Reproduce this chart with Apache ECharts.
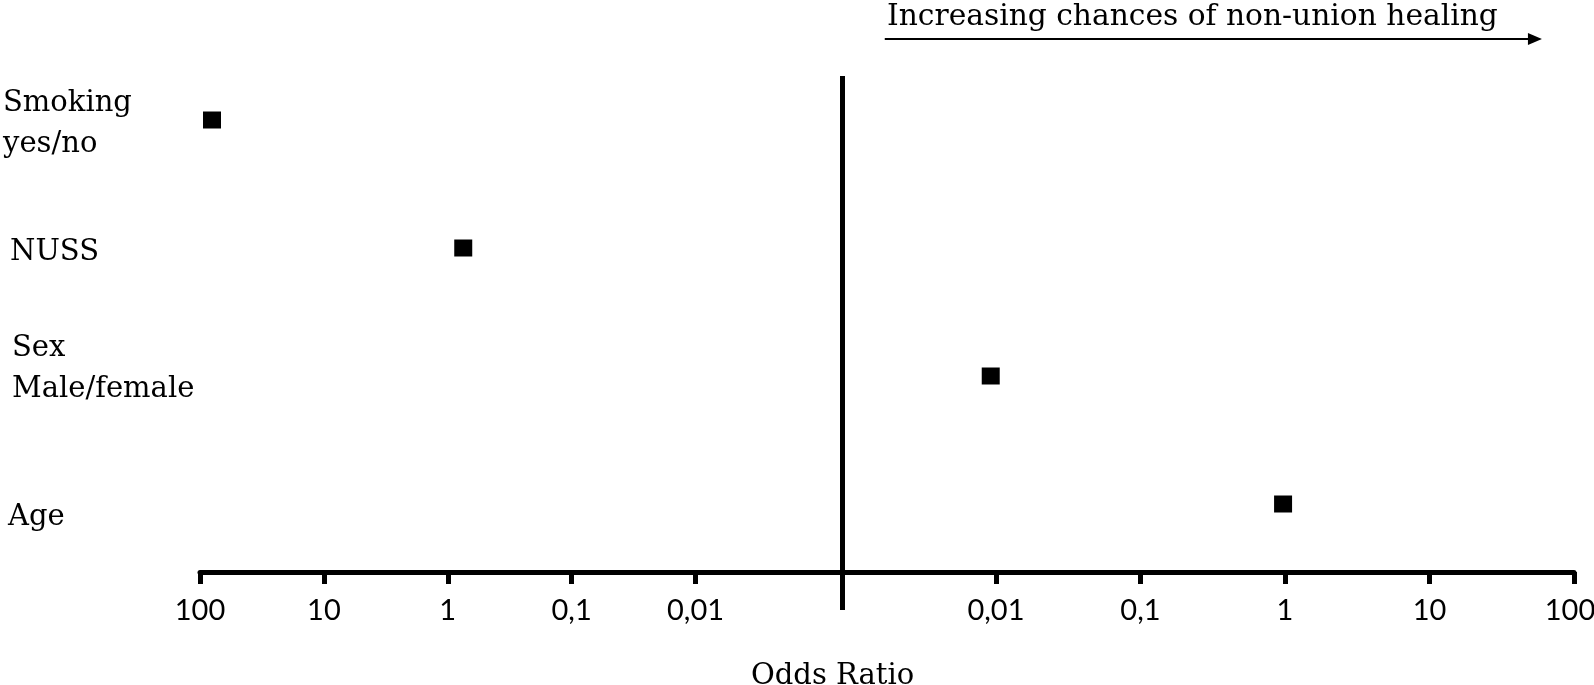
<!DOCTYPE html>
<html>
<head>
<meta charset="utf-8">
<script src="https://cdn.jsdelivr.net/npm/echarts@6/dist/echarts.min.js"></script>
<style>
html,body{margin:0;padding:0;background:#fff;}
#chart{width:1594px;height:685px;}
</style>
</head>
<body>
<div id="chart"></div>
<script>
// ---- data ----
const categories = ['Smoking\nyes/no', 'NUSS', 'Sex\nMale/female', 'Age'];
const oddsRatios = [80, 0.75, 0.0092, 0.97];
const sides = ['left', 'left', 'right', 'right'];
const tickValues = [100, 10, 1, 0.1, 0.01];
const tickLabels = ['100', '10', '1', '0,1', '0,01'];
const axisTitle = 'Odds Ratio';
const directionText = 'Increasing chances of non-union healing';

// ---- chart ----
const chart = echarts.init(document.getElementById('chart'), null, {renderer: 'canvas'});
const serif = 'DejaVu Serif';
const sans = 'Lato';

function tickIndex(v) {
  let best = 0, bd = Infinity;
  tickValues.forEach((t, i) => {
    const d = Math.abs(Math.log10(v) - Math.log10(t));
    if (d < bd) { bd = d; best = i; }
  });
  return best;
}

const leftMin = 0.000651, rightMin = 0.000867;

function xAx(gridIndex, inverse, min) {
  return {
    type: 'log', logBase: 10, gridIndex: gridIndex, inverse: inverse,
    min: min, max: 100, offset: 4,
    axisLine: {show: true, lineStyle: {color: '#000', width: 5}},
    axisTick: {show: true, length: 12, lineStyle: {color: '#000', width: 5}, customValues: tickValues},
    axisLabel: {show: true, customValues: tickValues, color: '#000',
      fontFamily: sans, fontSize: 29, margin: 24, hideOverlap: false,
      formatter: function (v) {
        const i = tickIndex(v);
        // keep the outermost right label inside the canvas
        return (!inverse && i === 0) ? '{edge|' + tickLabels[i] + '}' : tickLabels[i];
      },
      rich: {edge: {fontFamily: sans, fontSize: 29, color: '#000', padding: [0, 8, 0, 0]}}},
    splitLine: {show: false}, minorTick: {show: false}
  };
}

const base = {fontFamily: serif, fontSize: 29, lineHeight: 41, color: '#000'};
const labelStyles = {
  a: Object.assign({}, base, {padding: [8, 0, 0, 0]}),
  b: Object.assign({}, base, {padding: [8, 0, 0, 7]}),
  c: Object.assign({}, base, {padding: [4, 0, 18, 9]}),
  d: Object.assign({}, base, {padding: [26, 0, 0, 5]})
};
const styleKeys = ['a', 'b', 'c', 'd'];

const leftData = [], rightData = [];
oddsRatios.forEach((v, i) => {
  (sides[i] === 'left' ? leftData : rightData).push([v, categories[i]]);
});

const option = {
  backgroundColor: '#fff',
  animation: false,
  title: [
    {text: directionText, left: 882, top: -3,
      textStyle: {fontFamily: serif, fontSize: 29.7, fontWeight: 'normal', color: '#000'}},
    {text: axisTitle, left: 746, top: 657,
      textStyle: {fontFamily: serif, fontSize: 29, fontWeight: 'normal', color: '#000'}}
  ],
  grid: [
    {left: 200, top: 56, width: 642.5, height: 512, containLabel: false, outerBoundsMode: 'none'},
    {left: 842.5, top: 56, width: 731.5, height: 512, containLabel: false, outerBoundsMode: 'none'}
  ],
  xAxis: [xAx(0, true, leftMin), xAx(1, false, rightMin)],
  yAxis: [
    {type: 'category', gridIndex: 0, inverse: true, data: categories,
      axisLine: {show: false}, axisTick: {show: false}, splitLine: {show: false},
      axisLabel: {align: 'left', margin: 197, interval: 0,
        formatter: function (val, idx) {
          return val.split('\n').map(s => '{' + styleKeys[idx] + '|' + s + '}').join('\n');
        },
        rich: labelStyles}},
    {type: 'category', gridIndex: 1, inverse: true, data: categories, show: false}
  ],
  series: [
    {type: 'scatter', xAxisIndex: 0, yAxisIndex: 0, data: leftData, symbol: 'rect',
      symbolSize: [18, 17], itemStyle: {color: '#000', opacity: 1}, silent: true},
    {type: 'scatter', xAxisIndex: 1, yAxisIndex: 1, data: rightData, symbol: 'rect',
      symbolSize: [18, 17], itemStyle: {color: '#000', opacity: 1}, silent: true}
  ]
};
chart.setOption(option);

// center divider + direction arrow
const cx = chart.convertToPixel({xAxisIndex: 1}, rightMin);
const arrowStart = chart.convertToPixel({xAxisIndex: 1}, 0.0017);
const arrowEnd = chart.convertToPixel({xAxisIndex: 1}, 60);
chart.setOption({
  graphic: [
    {type: 'line', shape: {x1: cx, y1: 76, x2: cx, y2: 610}, style: {stroke: '#000', lineWidth: 5}},
    {type: 'line', shape: {x1: arrowStart, y1: 39, x2: arrowEnd - 12, y2: 39}, style: {stroke: '#000', lineWidth: 2}},
    {type: 'polygon', shape: {points: [[arrowEnd - 14, 33], [arrowEnd, 39], [arrowEnd - 14, 45]]}, style: {fill: '#000'}}
  ]
});
</script>
</body>
</html>
